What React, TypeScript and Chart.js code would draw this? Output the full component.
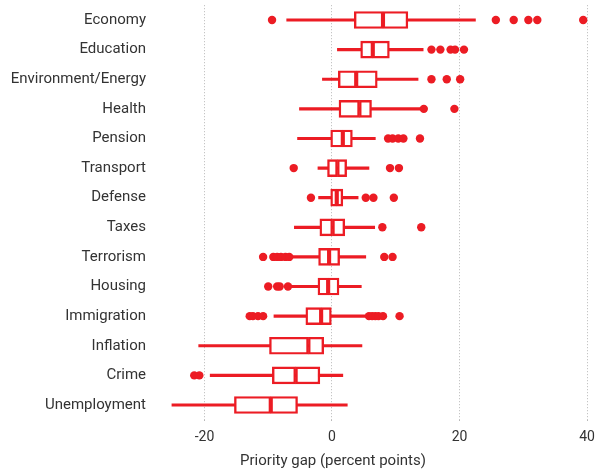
import React, { useEffect, useRef } from 'react';
import { Chart, registerables } from 'chart.js';

Chart.register(...registerables);

const categories = [
  'Economy', 'Education', 'Environment/Energy', 'Health', 'Pension', 'Transport', 'Defense',
  'Taxes', 'Terrorism', 'Housing', 'Immigration', 'Inflation', 'Crime', 'Unemployment',
];
const whiskerLow = [-7.1, 0.85, -1.5, -5.1, -5.4, -2.2, -2.1, -5.9, -6.1, -6.4, -9.1, -20.9, -19.1, -25.1];
const q1 = [3.5, 4.5, 1.0, 1.1, -0.2, -0.7, -0.2, -1.9, -2.1, -2.2, -4.1, -9.8, -9.35, -15.3];
const median = [8.0, 6.4, 3.8, 4.3, 1.7, 0.85, 0.75, 0.1, -0.45, -0.6, -1.7, -3.7, -5.7, -9.6];
const q3 = [11.9, 9.0, 7.1, 6.2, 3.2, 2.3, 1.7, 2.0, 1.2, 1.1, -0.1, -1.3, -1.9, -5.4];
const whiskerHigh = [22.5, 14.3, 13.5, 13.9, 6.8, 5.8, 4.1, 6.7, 5.3, 4.6, 5.2, 4.7, 1.7, 2.4];
const outliers: number[][] = [
  [-9.4, 25.7, 28.5, 30.8, 32.2, 39.4],
  [15.6, 17.0, 18.6, 19.3, 20.7],
  [15.6, 18.0, 20.1],
  [14.4, 19.2],
  [8.8, 9.5, 10.4, 11.2, 13.8],
  [-6.0, 9.1, 10.5],
  [-3.3, 5.3, 6.5, 9.7],
  [7.9, 14.0],
  [-10.8, -9.2, -8.6, -8.0, -7.3, -6.7, 8.2, 9.5],
  [-10.0, -8.6, -8.2, -6.9],
  [-12.9, -12.4, -11.6, -10.8, 5.8, 6.3, 6.8, 7.3, 8.0, 10.6],
  [],
  [-21.6, -20.8],
  [],
];
const xTicks = [-20, 0, 20, 40];
const xTitle = 'Priority gap (percent points)';

const RED = '#ec1c24';
const TEXT = '#333333';
const FONT = 'Roboto';

export default function App() {
  const ref = useRef<HTMLCanvasElement | null>(null);

  useEffect(() => {
    if (!ref.current) return;
    const outlierPoints: { x: number; y: string }[] = [];
    outliers.forEach((arr, i) => arr.forEach((v) => outlierPoints.push({ x: v, y: categories[i] })));

    const titlePlugin = {
      id: 'xTitle',
      afterDraw(chart: any) {
        const ctx = chart.ctx;
        ctx.save();
        ctx.font = `15px ${FONT}`;
        ctx.fillStyle = TEXT;
        ctx.textAlign = 'center';
        ctx.textBaseline = 'middle';
        ctx.fillText(xTitle, 333, 461);
        ctx.restore();
      },
    };

    const chart = new Chart(ref.current, {
      type: 'bar',
      data: {
        labels: categories,
        datasets: [
          {
            type: 'scatter' as any,
            data: outlierPoints as any,
            backgroundColor: RED,
            borderWidth: 0,
            pointRadius: 4.2,
            order: 1,
          } as any,
          {
            data: categories.map((_, i) => [q1[i], median[i]]) as any,
            backgroundColor: '#ffffff',
            borderColor: RED,
            borderWidth: 2.4,
            borderSkipped: false,
            barThickness: 17,
            grouped: false,
            order: 2,
          } as any,
          {
            data: categories.map((_, i) => [median[i], q3[i]]) as any,
            backgroundColor: '#ffffff',
            borderColor: RED,
            borderWidth: 2.4,
            borderSkipped: false,
            barThickness: 17,
            grouped: false,
            order: 2,
          } as any,
          {
            data: categories.map((_, i) => [whiskerLow[i], whiskerHigh[i]]) as any,
            backgroundColor: RED,
            borderWidth: 0,
            barThickness: 2.5,
            grouped: false,
            order: 3,
          } as any,
        ],
      },
      options: {
        indexAxis: 'y',
        responsive: false,
        animation: false,
        layout: { padding: { top: 5.2, right: 1.4, bottom: 0, left: 0 }, autoPadding: false },
        plugins: { legend: { display: false }, tooltip: { enabled: false } },
        scales: {
          x: {
            type: 'linear',
            min: -26.5,
            max: 41.5,
            afterFit: (s: any) => {
              s.height = 49.2;
              s.paddingLeft = 0;
              s.paddingRight = 0;
            },
            afterBuildTicks: (s: any) => { s.ticks = xTicks.map((v) => ({ value: v })); },
            ticks: {
              font: { family: FONT, size: 14 },
              color: TEXT,
              padding: 6,
              includeBounds: false,
            },
            grid: {
              color: '#b8b8b8',
              lineWidth: 1,
              tickLength: 3,
              tickColor: '#b8b8b8',
              tickBorderDash: [1, 2],
            },
            border: { display: false, dash: [1, 2] },
          },
          y: {
            type: 'category',
            afterFit: (s: any) => {
              s.width = 163;
              s.paddingTop = 0;
              s.paddingBottom = 0;
            },
            ticks: {
              font: { family: FONT, size: 15 },
              color: TEXT,
              padding: 17,
            },
            grid: { display: false, drawTicks: false },
            border: { display: false },
          },
        },
      } as any,
      plugins: [titlePlugin],
    });
    return () => chart.destroy();
  }, []);

  return (
    <div style={{ position: 'fixed', left: 0, top: 0, width: 598, height: 469, background: '#fff' }}>
      <canvas ref={ref} width={598} height={469} />
    </div>
  );
}
